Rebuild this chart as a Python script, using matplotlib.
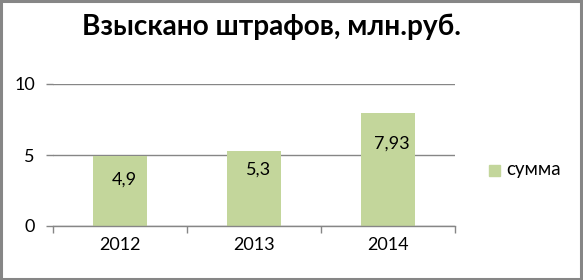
import matplotlib.pyplot as plt
from matplotlib.patches import Rectangle

years = ['2012', '2013', '2014']
values = [4.9, 5.3, 7.93]
labels = ['4,9', '5,3', '7,93']
title = 'Взыскано штрафов, млн.руб.'
legend_label = 'сумма'

plt.rcParams['font.family'] = ['Lato', 'DejaVu Sans']

W, H = 583, 280
fig = plt.figure(figsize=(W / 100, H / 100), dpi=100)

# plot area in pixels: x 53..455, y 84..226
ax = fig.add_axes([53 / W, 1 - 226 / H, (455 - 53) / W, (226 - 84) / H])

bar_color = '#C3D69B'
grid_color = '#868686'
fs = 13
x = range(len(years))
bars = ax.bar(x, values, width=0.4, color=bar_color, label=legend_label, zorder=2)

ax.set_xlim(-0.5, len(years) - 0.5)
ax.set_ylim(0, 10)
ax.set_yticks([0, 5, 10])
ax.yaxis.grid(True, color=grid_color, linewidth=1)
ax.set_axisbelow(True)

for s in ['top', 'right', 'left']:
    ax.spines[s].set_visible(False)
ax.spines['bottom'].set_color(grid_color)
ax.spines['bottom'].set_linewidth(1)

ax.set_xticks(x)
ax.set_xticklabels(years, fontsize=fs)
ax.set_xticks([-0.5, 0.5, 1.5, 2.5], minor=True)
ax.tick_params(axis='x', which='major', length=0, pad=8)
ax.tick_params(axis='x', which='minor', length=5, color=grid_color, width=1)
ax.tick_params(axis='y', length=5, color=grid_color, width=1, labelsize=fs, pad=8)

# data labels inside the bars (pixel offsets below the bar tops)
label_dy = [-23, -19, -30]
for i, (v, t) in enumerate(zip(values, labels)):
    ax.annotate(t, (i, v), xytext=(3, label_dy[i] * 0.72), textcoords='offset points',
                ha='center', va='center', fontsize=fs)

fig.text(271 / W, 1 - 27 / H, title, ha='center', va='center',
         fontsize=20.2, fontweight='bold')

# legend
fig.patches.append(Rectangle((489 / W, 1 - 176 / H), 11 / W, 11 / H,
                             transform=fig.transFigure, color=bar_color))
fig.text(506 / W, 1 - 170 / H, legend_label, ha='left', va='center', fontsize=13.5)

# chart border
fig.patches.append(Rectangle((1 / W, 1.5 / H), (W - 3.5) / W, (H - 2.5) / H,
                             transform=fig.transFigure, fill=False,
                             edgecolor='#868686', linewidth=2.2))

fig.savefig('out.png', dpi=100)
